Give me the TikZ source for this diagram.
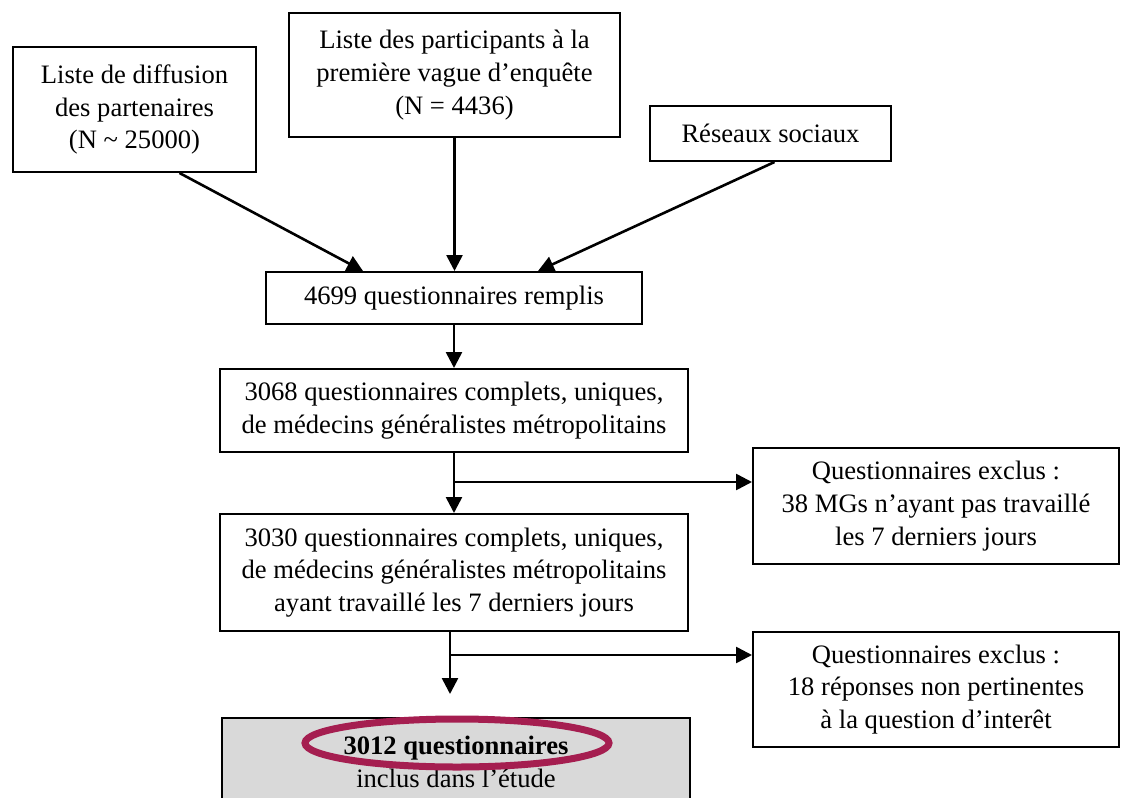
\documentclass[tikz,border=0pt]{standalone}
\usepackage{fontspec}
\setmainfont{Liberation Serif}
\usetikzlibrary{arrows.meta,calc}
\definecolor{boxgray}{HTML}{D9D9D9}
\definecolor{ringred}{HTML}{A51E50}
\begin{document}
\begin{tikzpicture}[x=0.5pt,y=-0.5pt,
  box/.style={draw, line width=1pt, align=center, inner sep=0pt, font=\fontsize{13.3}{16.3}\selectfont},
  arr/.style={line width=1.3pt, -{Triangle[length=8pt,width=8pt]}},
  ring/.style={draw=ringred, line width=3.5pt}
  ]
\useasboundingbox (0,0) rectangle (1123,797);
\node[box, minimum width=121.5pt, minimum height=62.5pt] (A) at (134.5,109.5) {Liste de diffusion\\des partenaires\\(N \textasciitilde{} 25000)};
\node[box, minimum width=165.5pt, minimum height=62pt] (B) at (454.5,75) {Liste des participants à la\\première vague d’enquête\\(N = 4436)};
\node[box, minimum width=120.5pt, minimum height=27.5pt] (R) at (770.5,133.5) {Réseaux sociaux};
\node[box, minimum width=188pt, minimum height=26pt] (Q) at (454,298) {4699 questionnaires remplis};
\node[box, minimum width=234pt, minimum height=41.5pt] (C) at (454,410.5) {3068 questionnaires complets, uniques,\\de médecins généralistes métropolitains};
\node[box, minimum width=183pt, minimum height=58pt] (E1) at (936,506) {Questionnaires exclus :\\38 MGs n’ayant pas travaillé\\les 7 derniers jours};
\node[box, minimum width=234pt, minimum height=58.5pt] (D) at (454,572.5) {3030 questionnaires complets, uniques,\\de médecins généralistes métropolitains\\ayant travaillé les 7 derniers jours};
\node[box, minimum width=183pt, minimum height=57.5pt] (E2) at (936,689.5) {Questionnaires exclus :\\18 réponses non pertinentes\\à la question d’interêt};
\node[box, fill=boxgray, anchor=north, minimum width=234pt, minimum height=60pt] (F) at (456,717) {\textbf{3012 questionnaires}\\inclus dans l’étude\\\mbox{}};
\draw[ring] ($(F.north)+(1,26)$) ellipse [x radius=76pt, y radius=12pt];
\draw[arr] ($(A.south)+(45,0)$) -- ($(Q.north west)+(98,0)$);
\draw[arr] (B.south) -- (B.south |- Q.north);
\draw[arr] ($(R.south)+(4,0)$) -- ($(Q.north west)+(273,0)$);
\draw[arr] (Q.south) -- (Q.south |- C.north);
\draw[arr] (C.south) -- (C.south |- D.north);
\coordinate (b1) at ($(C.south)+(0,29)$);
\draw[arr] (b1) -- (b1 -| E1.west);
\coordinate (b2) at ($(D.south)+(-3,23)$);
\draw[arr] (b2) -- (b2 -| E2.west);
\coordinate (fs) at ($(D.south)+(-4,0)$);
\coordinate (fe) at ($(D.south)+(-4,62)$);
\draw[arr] (fs) -- (fe);
\end{tikzpicture}
\end{document}
